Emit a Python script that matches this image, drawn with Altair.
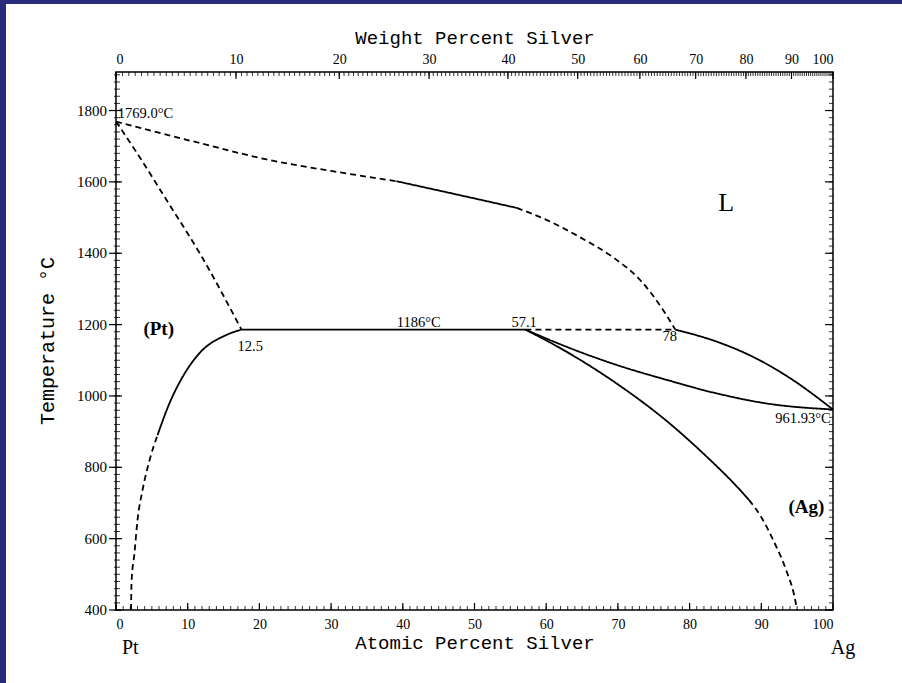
import altair as alt
import pandas as pd

# ---------------- data (atomic % Ag, temperature °C) ----------------
LIQ1_A = [0.0, 11.65, 21.0, 30.2, 39.1]
LIQ1_T = [1769, 1709, 1663, 1630, 1602]
LIQ2_A = [39.1, 47.9, 55.9]
LIQ2_T = [1602, 1563, 1527]
LIQ3_A = [55.9, 60.1, 64.7, 69.3, 73.1, 76.3, 78.0]
LIQ3_T = [1527, 1493, 1445, 1389, 1325, 1241, 1186]
SOLPT_A = [0.0, 3.28, 7.05, 11.65, 17.5]
SOLPT_T = [1769, 1670, 1549, 1401, 1186]
PERI1_A = [17.5, 57.1]
PERI1_T = [1186, 1186]
PERI2_A = [57.1, 78.0]
PERI2_T = [1186, 1186]
SVPT1_A = [17.5, 15.4, 11.65, 9.28, 7.47, 5.79]
SVPT1_T = [1186, 1171, 1120, 1053, 980, 890]
SVPT2_A = [5.79, 4.68, 3.70, 3.0, 2.58, 2.16, 2.1]
SVPT2_T = [890, 820, 736, 652, 560, 476, 400]
LIQAG_A = [78.0, 83.8, 88.8, 94.0, 100.0]
LIQAG_T = [1186, 1152, 1110, 1050, 961.93]
SOLAG_A = [57.1, 62.8, 69.8, 76.8, 83.8, 90.7, 100.0]
SOLAG_T = [1186, 1138, 1087, 1045, 1007, 979, 961.93]
SVAG1_A = [57.1, 62.83, 69.81, 76.79, 82.37, 86.5, 88.3]
SVAG1_T = [1186, 1124, 1035, 930, 830, 748, 708]
SVAG2_A = [88.3, 90.0, 91.8, 93.5, 94.6, 95.0]
SVAG2_T = [708, 660, 590, 510, 440, 400]

SEGMENTS = [
    ("liq1", "dashed", LIQ1_A, LIQ1_T),
    ("liq2", "solid", LIQ2_A, LIQ2_T),
    ("liq3", "dashed", LIQ3_A, LIQ3_T),
    ("solpt", "dashed", SOLPT_A, SOLPT_T),
    ("peri1", "solid", PERI1_A, PERI1_T),
    ("peri2", "dashed", PERI2_A, PERI2_T),
    ("svpt1", "solid", SVPT1_A, SVPT1_T),
    ("svpt2", "dashed", SVPT2_A, SVPT2_T),
    ("liqag", "solid", LIQAG_A, LIQAG_T),
    ("solag", "solid", SOLAG_A, SOLAG_T),
    ("svag1", "solid", SVAG1_A, SVAG1_T),
    ("svag2", "dashed", SVAG2_A, SVAG2_T),
]

# annotations
SMALL_TEXT = ["1769.0°C", "12.5", "1186°C", "57.1", "78"]
SMALL_A = [0.25, 16.96, 39.15, 55.16, 76.23]
SMALL_T = [1778, 1126, 1193, 1193, 1155]
RIGHT_TEXT = ["961.93°C"]
RIGHT_A = [99.68]
RIGHT_T = [923]
PHASE_TEXT = ["(Pt)", "(Ag)"]
PHASE_A = [5.96, 96.3]
PHASE_T = [1188, 689]
LIQ_TEXT = ["L"]
LIQ_A = [85.1]
LIQ_T = [1541]
END_TEXT = ["Pt", "Ag"]
END_A = [2.0, 101.4]
Y_TITLE = ["Temperature °C"]

# axes ticks
AT_LABELS = list(range(0, 101, 10))
AT_MINOR = list(range(0, 101, 1))
T_LABELS = list(range(400, 1801, 200))
T_MINOR = list(range(400, 1901, 20))
WT_MAJOR = list(range(0, 101, 10))
WT_MINOR = [i * 0.5 for i in range(0, 201)]

M_PT, M_AG = 195.08, 107.87


def wt_to_at(w):
    if w <= 0:
        return 0.0
    if w >= 100:
        return 100.0
    na = w / M_AG
    npt = (100 - w) / M_PT
    return 100 * na / (na + npt)


rows = []
for name, style, A, T in SEGMENTS:
    for a, t in zip(A, T):
        rows.append({"seg": name, "style": style, "a": a, "T": t})
df = pd.DataFrame(rows)

W, H = 717, 538
xs = alt.Scale(domain=[0, 100], nice=False, zero=False)
ys = alt.Scale(domain=[400, 1908], nice=False, zero=False)

lines = alt.Chart(df).mark_line(color="black", strokeWidth=1.8, interpolate="monotone").encode(
    x=alt.X("a:Q", scale=xs, axis=alt.Axis(orient="bottom", values=AT_LABELS, title="Atomic Percent Silver",
                                           ticks=False, tickSize=0, domain=False, grid=False, labelPadding=7,
                                           titlePadding=2, labelFontSize=14)),
    y=alt.Y("T:Q", scale=ys, axis=None),
    detail="seg:N",
    strokeDash=alt.StrokeDash("style:N", scale=alt.Scale(domain=["solid", "dashed"], range=[[1, 0], [6, 4]]),
                              legend=None),
)

# left axis: outward major ticks, labels and title
tdf = pd.DataFrame({"T": T_LABELS, "lab": [str(v) for v in T_LABELS]})
left_ticks = alt.Chart(tdf).mark_rule(color="black", strokeWidth=1.2).encode(
    y=alt.Y("T:Q", scale=ys, axis=None), x=alt.value(-7), x2=alt.value(6))
left_labels = alt.Chart(tdf).mark_text(font="Liberation Serif", fontSize=15, align="right",
                                       baseline="middle", color="black").encode(
    y=alt.Y("T:Q", scale=ys, axis=None), x=alt.value(-9), text="lab:N")
y_title = alt.Chart(pd.DataFrame({"t": Y_TITLE})).mark_text(
    font="Liberation Mono", fontSize=20, angle=270, align="center", baseline="middle",
    color="black").encode(x=alt.value(-68), y=alt.value(H / 2), text="t:N")

label_expr = ("round(datum.value*%s/(datum.value*%s+(100-datum.value)*%s)*100)" % (M_AG, M_AG, M_PT))
top_vals = [wt_to_at(w) for w in WT_MAJOR]

top_major = alt.Chart(pd.DataFrame({"at": top_vals})).mark_rule(color="black", strokeWidth=1.2).encode(
    x=alt.X("at:Q", scale=xs, axis=alt.Axis(orient="top", values=top_vals, labelExpr=label_expr,
                                            title="Weight Percent Silver", ticks=False, tickSize=0,
                                            domain=False, grid=False, labelPadding=6, titlePadding=5,
                                            labelFontSize=14)),
    y=alt.value(0), y2=alt.value(7),
)
top_minor = alt.Chart(pd.DataFrame({"at": [wt_to_at(w) for w in WT_MINOR]})).mark_rule(
    color="black", strokeWidth=0.8).encode(
    x=alt.X("at:Q", scale=xs, axis=None), y=alt.value(0), y2=alt.value(4))

bot_minor = alt.Chart(pd.DataFrame({"a": AT_MINOR})).mark_rule(color="black", strokeWidth=0.8).encode(
    x=alt.X("a:Q", scale=xs, axis=None), y=alt.value(H), y2=alt.value(H - 4))
bot_major = alt.Chart(pd.DataFrame({"a": AT_LABELS})).mark_rule(color="black", strokeWidth=1.2).encode(
    x=alt.X("a:Q", scale=xs, axis=None), y=alt.value(H), y2=alt.value(H - 7))

left_minor = alt.Chart(pd.DataFrame({"T": T_MINOR})).mark_rule(color="black", strokeWidth=0.8).encode(
    y=alt.Y("T:Q", scale=ys, axis=None), x=alt.value(-2), x2=alt.value(4))
right_minor = alt.Chart(pd.DataFrame({"T": T_MINOR})).mark_rule(color="black", strokeWidth=0.8).encode(
    y=alt.Y("T:Q", scale=ys, axis=None), x=alt.value(W), x2=alt.value(W - 4))
right_major = alt.Chart(pd.DataFrame({"T": T_LABELS})).mark_rule(color="black", strokeWidth=1.2).encode(
    y=alt.Y("T:Q", scale=ys, axis=None), x=alt.value(W), x2=alt.value(W - 8))

small_txt = alt.Chart(pd.DataFrame({"t": SMALL_TEXT, "a": SMALL_A, "T": SMALL_T})).mark_text(
    font="Liberation Serif", fontSize=14.5, align="left", baseline="alphabetic", color="black").encode(
    x=alt.X("a:Q", scale=xs, axis=None), y=alt.Y("T:Q", scale=ys, axis=None), text="t:N")
right_txt = alt.Chart(pd.DataFrame({"t": RIGHT_TEXT, "a": RIGHT_A, "T": RIGHT_T})).mark_text(
    font="Liberation Serif", fontSize=14.5, align="right", baseline="alphabetic", color="black").encode(
    x=alt.X("a:Q", scale=xs, axis=None), y=alt.Y("T:Q", scale=ys, axis=None), text="t:N")
phase_txt = alt.Chart(pd.DataFrame({"t": PHASE_TEXT, "a": PHASE_A, "T": PHASE_T})).mark_text(
    font="Liberation Serif", fontSize=19, fontWeight="bold", align="center", baseline="middle",
    color="black").encode(
    x=alt.X("a:Q", scale=xs, axis=None), y=alt.Y("T:Q", scale=ys, axis=None), text="t:N")
liq_txt = alt.Chart(pd.DataFrame({"t": LIQ_TEXT, "a": LIQ_A, "T": LIQ_T})).mark_text(
    font="Liberation Serif", fontSize=26, align="center", baseline="middle", color="black").encode(
    x=alt.X("a:Q", scale=xs, axis=None), y=alt.Y("T:Q", scale=ys, axis=None), text="t:N")
end_txt = alt.Chart(pd.DataFrame({"t": END_TEXT, "a": END_A})).mark_text(
    font="Liberation Serif", fontSize=20, align="center", baseline="middle", color="black").encode(
    x=alt.X("a:Q", scale=xs, axis=None), y=alt.value(H + 38), text="t:N")

# slide background strips (left and top edges)
BLUE = "#2b2b7b"
strip_left = alt.Chart(alt.Data(values=[{"k": 1}])).mark_rect(color=BLUE).encode(
    x=alt.value(-116), x2=alt.value(-110), y=alt.value(-72), y2=alt.value(H + 73))
strip_top = alt.Chart(alt.Data(values=[{"k": 1}])).mark_rect(color=BLUE).encode(
    x=alt.value(-116), x2=alt.value(W + 69), y=alt.value(-72), y2=alt.value(-68))

chart = alt.layer(
    lines, top_major, top_minor, bot_minor, bot_major, left_minor, right_minor, right_major,
    left_ticks, left_labels, y_title,
    small_txt, right_txt, phase_txt, liq_txt, end_txt, strip_left, strip_top,
).resolve_axis(x="independent").properties(
    width=W, height=H,
    padding={"left": 116, "top": 72, "right": 69, "bottom": 73},
    autosize=alt.AutoSizeParams(type="none"),
    background="white",
).configure_view(
    stroke="black", strokeWidth=1.5, fill="white"
).configure_axis(
    labelFont="Liberation Serif", labelFontSize=15, labelColor="black",
    titleFont="Liberation Mono", titleFontSize=19, titleFontWeight="normal", titleColor="black",
    tickColor="black", zindex=1,
)

chart.save("out.html", embed_options={"renderer": "svg", "actions": False})
